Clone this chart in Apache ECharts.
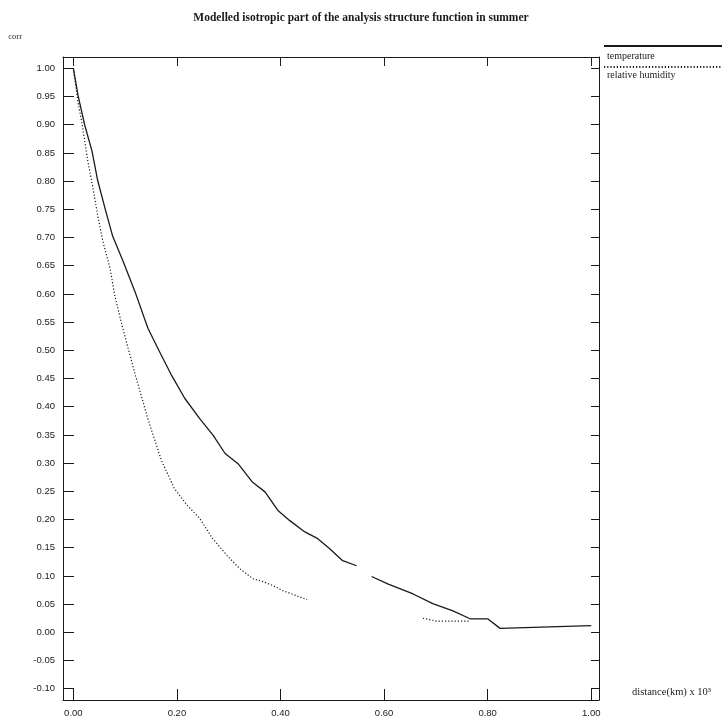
<!DOCTYPE html>
<html>
<head>
<meta charset="utf-8">
<title>Modelled isotropic part of the analysis structure function in summer</title>
<script src="https://cdn.jsdelivr.net/npm/echarts@6/dist/echarts.min.js"></script>
<style>
    html, body { margin: 0; padding: 0; background: #fff; }
    #chart-container { width: 722px; height: 722px; }
</style>
</head>
<body>
<div id="chart-container"></div>
<script>
'use strict';

// distance (km x 10^3) and correlation
const tempDist = [0, 0.009, 0.022, 0.036, 0.047, 0.061, 0.076, 0.096, 0.119, 0.144,
    0.165, 0.19, 0.215, 0.244, 0.27, 0.293, 0.318, 0.345, 0.37, 0.395,
    0.418, 0.447, 0.472, 0.495, 0.52, 0.547, 0.56, 0.576, 0.607, 0.656,
    0.694, 0.733, 0.766, 0.80, 0.824, 1.0];
const tempCorr = [1.0, 0.952, 0.899, 0.853, 0.801, 0.752, 0.702, 0.658, 0.604, 0.539,
    0.50, 0.455, 0.415, 0.379, 0.349, 0.317, 0.299, 0.267, 0.249, 0.216,
    0.198, 0.178, 0.166, 0.148, 0.127, 0.118, null, 0.099, 0.086, 0.068,
    0.051, 0.038, 0.024, 0.024, 0.007, 0.012];

const humDist = [0, 0.009, 0.017, 0.028, 0.038, 0.047, 0.057, 0.071, 0.080, 0.094,
    0.12, 0.145, 0.17, 0.195, 0.22, 0.244, 0.269, 0.297, 0.321, 0.347,
    0.366, 0.385, 0.404, 0.422, 0.451, 0.55, 0.675, 0.70, 0.735, 0.766];
const humCorr = [1.0, 0.94, 0.90, 0.835, 0.787, 0.739, 0.693, 0.645, 0.597, 0.544,
    0.455, 0.375, 0.305, 0.255, 0.225, 0.202, 0.166, 0.136, 0.113, 0.095,
    0.090, 0.083, 0.074, 0.068, 0.058, null, 0.025, 0.02, 0.02, 0.02];

const xTicks = [0, 0.2, 0.4, 0.6, 0.8, 1.0];
const yTicks = [-0.10, -0.05, 0.00, 0.05, 0.10, 0.15, 0.20, 0.25, 0.30, 0.35, 0.40,
    0.45, 0.50, 0.55, 0.60, 0.65, 0.70, 0.75, 0.80, 0.85, 0.90, 0.95, 1.00];

const seriesNames = ['temperature', 'relative humidity'];

function pairs(xs, ys) {
    return xs.map((x, i) => [x, ys[i] === null ? '-' : ys[i]]);
}

const ink = '#1a1a1a';
const frameLine = { show: true, onZero: false, lineStyle: { color: ink, width: 1 } };

const myChart = echarts.init(document.getElementById('chart-container'), null, { renderer: 'canvas' });

const option = {
    backgroundColor: '#fff',
    animation: false,
    title: {
        text: 'Modelled isotropic part of the analysis structure function in summer',
        left: 'center',
        top: 7,
        textStyle: {
            fontFamily: 'Liberation Serif',
            fontSize: 11.5,
            fontWeight: 'bold',
            color: ink
        }
    },
    legend: [
        {
            // line samples only
            data: seriesNames,
            orient: 'vertical',
            left: 603,
            top: 45,
            padding: 0,
            itemWidth: 119,
            itemHeight: 2,
            itemGap: 19,
            selectedMode: false,
            formatter: () => '',
            itemStyle: { color: 'rgba(0,0,0,0)', borderWidth: 0 },
            textStyle: { fontSize: 1 }
        },
        {
            // labels below the samples
            data: seriesNames,
            orient: 'vertical',
            left: 602,
            top: 51,
            padding: 0,
            icon: 'none',
            itemWidth: 0,
            itemHeight: 10,
            itemGap: 9,
            selectedMode: false,
            textStyle: {
                fontFamily: 'Liberation Serif',
                fontSize: 10,
                color: ink
            }
        }
    ],
    grid: {
        left: 63,
        right: 123,
        top: 57,
        bottom: 22
    },
    xAxis: [
        {
            type: 'value',
            position: 'bottom',
            min: -0.02,
            max: 1.015,
            name: 'distance(km) x 10³',
            nameLocation: 'end',
            nameGap: 33,
            nameTextStyle: {
                fontFamily: 'Liberation Serif',
                fontSize: 10.5,
                color: ink,
                align: 'left',
                verticalAlign: 'bottom',
                padding: [0, 0, 2, 0]
            },
            axisLine: frameLine,
            axisTick: { inside: true, length: 11, customValues: xTicks, lineStyle: { color: ink } },
            axisLabel: {
                customValues: xTicks,
                formatter: v => v.toFixed(2),
                margin: 8,
                fontFamily: 'Liberation Sans',
                fontSize: 9.5,
                color: ink
            },
            splitLine: { show: false }
        },
        {
            type: 'value',
            position: 'top',
            min: -0.02,
            max: 1.015,
            axisLine: frameLine,
            axisTick: { inside: true, length: 9, customValues: xTicks, lineStyle: { color: ink } },
            axisLabel: { show: false },
            splitLine: { show: false }
        }
    ],
    yAxis: [
        {
            type: 'value',
            position: 'left',
            min: -0.12,
            max: 1.02,
            name: 'corr',
            nameLocation: 'end',
            nameGap: 16,
            nameTextStyle: {
                fontFamily: 'Liberation Serif',
                fontSize: 8.5,
                color: ink,
                align: 'right',
                padding: [0, 41, 0, 0]
            },
            axisLine: frameLine,
            axisTick: { inside: true, length: 11, customValues: yTicks, lineStyle: { color: ink } },
            axisLabel: {
                customValues: yTicks,
                formatter: v => v.toFixed(2),
                margin: 8,
                fontFamily: 'Liberation Sans',
                fontSize: 9.5,
                color: ink
            },
            splitLine: { show: false }
        },
        {
            type: 'value',
            position: 'right',
            min: -0.12,
            max: 1.02,
            axisLine: frameLine,
            axisTick: { inside: true, length: 8, customValues: yTicks, lineStyle: { color: ink } },
            axisLabel: { show: false },
            splitLine: { show: false }
        }
    ],
    series: [
        {
            name: seriesNames[0],
            type: 'line',
            xAxisIndex: 0,
            yAxisIndex: 0,
            data: pairs(tempDist, tempCorr),
            symbol: 'none',
            connectNulls: false,
            lineStyle: { color: ink, width: 1.3, type: 'solid' },
            itemStyle: { color: ink }
        },
        {
            name: seriesNames[1],
            type: 'line',
            xAxisIndex: 0,
            yAxisIndex: 0,
            data: pairs(humDist, humCorr),
            symbol: 'none',
            connectNulls: false,
            lineStyle: { color: ink, width: 1.2, type: [1.2, 2] },
            itemStyle: { color: ink }
        }
    ]
};

myChart.setOption(option);
window.addEventListener('resize', myChart.resize);
</script>
</body>
</html>
